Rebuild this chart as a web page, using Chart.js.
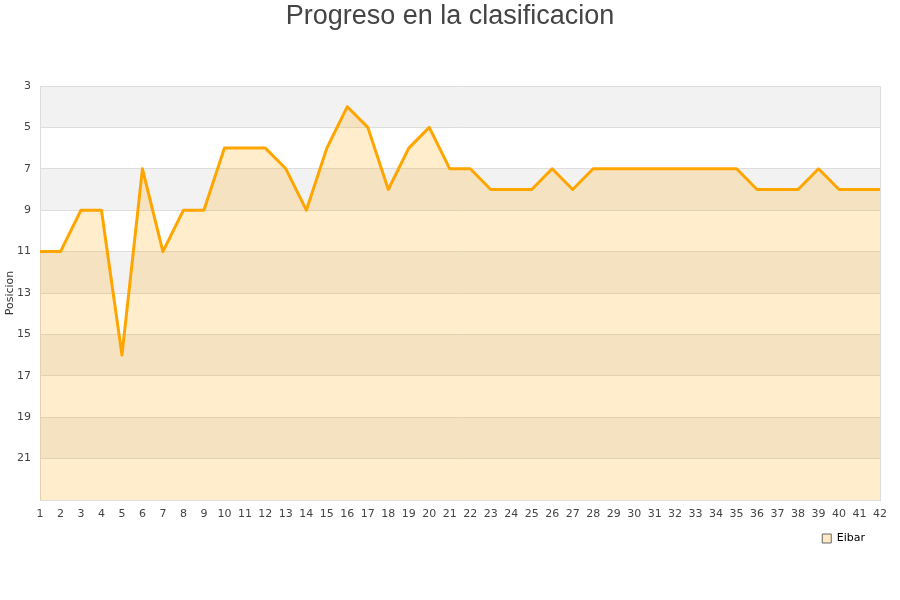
<!DOCTYPE html>
<html>
<head>
<meta charset="utf-8">
<script src="https://cdn.jsdelivr.net/npm/chart.js@4/dist/chart.umd.min.js"></script>
<style>
  html, body { margin: 0; padding: 0; background: #fff; }
  #wrap { width: 900px; height: 600px; position: relative; }
</style>
</head>
<body>
<div id="wrap"><canvas id="c" width="900" height="600"></canvas></div>
<script>
const jornadas = [1,2,3,4,5,6,7,8,9,10,11,12,13,14,15,16,17,18,19,20,21,22,23,24,25,26,27,28,29,30,31,32,33,34,35,36,37,38,39,40,41,42];
const posicionEibar = [11,11,9,9,16,7,11,9,9,6,6,6,7,9,6,4,5,8,6,5,7,7,8,8,8,7,8,7,7,7,7,7,7,7,7,8,8,8,7,8,8,8];
const teamName = 'Eibar';
const chartTitle = 'Progreso en la clasificacion';
const yTitle = 'Posicion';
const yMin = 3, yMax = 23, yStep = 2;

const bandsPlugin = {
  id: 'bands',
  beforeDraw(chart) {
    const { ctx, chartArea } = chart;
    const y = chart.scales.y;
    ctx.save();
    ctx.fillStyle = '#f2f2f2';
    for (let v = yMin; v < yMax; v += 2 * yStep) {
      const p1 = y.getPixelForValue(v);
      const p2 = y.getPixelForValue(Math.min(v + yStep, yMax));
      ctx.fillRect(chartArea.left, Math.min(p1, p2), chartArea.right - chartArea.left, Math.abs(p2 - p1));
    }
    ctx.restore();
  },
  afterDraw(chart) {
    const { ctx, chartArea } = chart;
    ctx.save();
    ctx.strokeStyle = '#dddddd';
    ctx.lineWidth = 1;
    ctx.beginPath();
    ctx.moveTo(Math.round(chartArea.right) + 0.5, chartArea.top);
    ctx.lineTo(Math.round(chartArea.right) + 0.5, chartArea.bottom);
    ctx.stroke();
    ctx.restore();
  }
};

new Chart(document.getElementById('c'), {
  type: 'line',
  data: {
    labels: jornadas,
    datasets: [{
      label: teamName,
      data: posicionEibar,
      borderColor: '#FFA500',
      backgroundColor: 'rgba(255,165,0,0.2)',
      borderWidth: 3,
      borderJoinStyle: 'round',
      pointRadius: 0,
      pointHoverRadius: 0,
      tension: 0,
      fill: { value: yMax }
    }]
  },
  options: {
    responsive: false,
    animation: false,
    devicePixelRatio: 1,
    layout: { padding: { left: 0, right: 0, top: 0, bottom: 46 } },
    plugins: {
      title: {
        display: true,
        text: chartTitle,
        color: '#444444',
        font: { family: '"Liberation Sans", Arial, sans-serif', size: 27, weight: 'normal' },
        padding: { top: 0, bottom: 53.6 }
      },
      legend: {
        display: true,
        position: 'bottom',
        align: 'end',
        fullSize: false,
        labels: {
          color: '#000000',
          font: { family: '"DejaVu Sans", sans-serif', size: 11 },
          boxWidth: 9,
          boxHeight: 9,
          padding: 15,
          generateLabels(chart) {
            return chart.data.datasets.map((ds, i) => ({
              text: ds.label,
              fillStyle: '#ffe9c4',
              strokeStyle: '#666666',
              lineWidth: 1,
              datasetIndex: i,
              fontColor: '#000000'
            }));
          }
        }
      },
      tooltip: { enabled: false }
    },
    scales: {
      x: {
        type: 'category',
        offset: false,
        grid: { display: false, drawTicks: false },
        border: { display: true, color: '#dddddd' },
        ticks: {
          autoSkip: false,
          maxRotation: 0,
          minRotation: 0,
          padding: 7.4,
          color: '#444444',
          font: { family: '"DejaVu Sans", sans-serif', size: 11 }
        },
        afterFit(s) { s.height = 18; }
      },
      y: {
        reverse: true,
        min: yMin,
        max: yMax,
        grid: { color: '#dddddd', drawTicks: false },
        border: { display: true, color: '#dddddd' },
        ticks: {
          stepSize: yStep,
          padding: 9,
          color: '#444444',
          font: { family: '"DejaVu Sans", sans-serif', size: 11 },
          callback(v) { return v === yMax ? '' : v; }
        },
        title: {
          display: true,
          text: yTitle,
          color: '#333333',
          font: { family: '"DejaVu Sans", sans-serif', size: 11 }
        },
        afterFit(s) { s.width = 40; }
      },
      yr: {
        type: 'linear',
        position: 'right',
        display: true,
        grid: { display: false, drawTicks: false },
        border: { display: false },
        ticks: { display: false },
        afterFit(s) { s.width = 20; }
      }
    }
  },
  plugins: [bandsPlugin]
});
</script>
</body>
</html>
